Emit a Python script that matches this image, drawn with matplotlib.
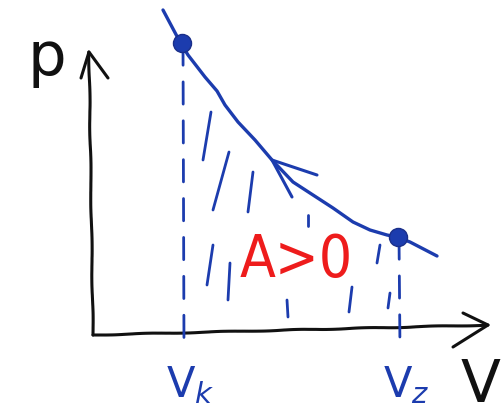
import matplotlib
matplotlib.use('Agg')
import matplotlib.pyplot as plt

# p-V diagram units: 1 unit = 10 px, origin at the axes corner
BLUE = '#1c3cae'
RED = '#ee1c1c'
INK = '#111111'

# isotherm traced by the process (V, p)
curve_V = [7.0, 8.7, 9.5, 11.2, 12.4, 13.2, 14.5, 16.2, 17.9, 20.0, 22.0,
           24.0, 26.0, 27.7, 29.4, 30.4, 31.7, 34.4]
curve_p = [32.5, 29.3, 28.0, 25.8, 24.4, 23.0, 21.3, 19.5, 17.5, 15.3, 14.0,
           12.7, 11.3, 10.5, 10.0, 9.8, 9.3, 7.9]

# end states
V_k, p_k = 8.9, 29.2
V_z, p_z = 30.5, 9.8
state_labels = ['V$_k$', 'V$_z$']

# shading strokes under the curve: (V0, p0, V1, p1)
strokes = [
    (11.8, 22.3, 11.0, 17.5),
    (13.6, 18.3, 12.0, 12.5),
    (16.0, 16.3, 15.5, 12.3),
    (21.5, 12.0, 21.5, 10.9),
    (12.0, 9.0, 11.4, 5.0),
    (13.7, 7.2, 13.5, 3.5),
    (19.4, 3.5, 19.5, 1.8),
    (25.9, 4.8, 25.6, 2.3),
    (28.7, 9.0, 28.4, 7.2),
    (29.7, 4.2, 29.5, 2.7),
]

fig = plt.figure(figsize=(5.01, 4.13), dpi=100)
ax = fig.add_axes([0, 0, 1, 1])
ax.set_xlim(-9.3, 40.8)
ax.set_ylim(-7.8, 33.5)
ax.axis('off')


def wobbly(xs, ys, **kw):
    # slightly shaky pen line
    line, = ax.plot(xs, ys, solid_capstyle='round', solid_joinstyle='round', **kw)
    line.set_sketch_params(0.4, 80, 2)
    return line


# hand drawn axes with open arrow heads
wobbly([0, -0.4], [0, 28.3], color=INK, lw=2.2)
ax.plot([-1.2, -0.4, 1.5], [25.7, 28.3, 25.7], color=INK, lw=2.2, solid_capstyle='round', solid_joinstyle='round')
wobbly([0, 39.5], [0, 1.0], color=INK, lw=2.2)
ax.plot([37.0, 39.5, 36.0], [2.2, 1.0, -1.2], color=INK, lw=2.2, solid_capstyle='round', solid_joinstyle='round')

# process curve with direction arrow
ax.plot(curve_V, curve_p, color=BLUE, lw=2.4, solid_capstyle='round', solid_joinstyle='round')
ax.plot([22.4, 17.9, 19.9], [16.0, 17.5, 13.8], color=BLUE, lw=2.2, solid_capstyle='round', solid_joinstyle='round')

# dashed drop lines to the volume axis
for V, p in [(V_k, p_k), (V_z, p_z)]:
    ax.plot([V + 0.1, V + 0.2], [p, -1.5], color=BLUE, lw=2.0, dashes=(8, 6), dash_capstyle='round')
ax.plot([V_k, V_z], [p_k, p_z], 'o', color=BLUE, ms=13, mec='#1a2f8a', mew=1)

for V0, p0, V1, p1 in strokes:
    ax.plot([V0, V1], [p0, p1], color=BLUE, lw=2.0, solid_capstyle='round')

# labels
for V, lab in zip([V_k, V_z], state_labels):
    ax.text(V + 0.8, -5.0, lab, color=BLUE, fontsize=30, ha='center', va='center')
ax.text(40.7, -5.0, 'V', color=INK, fontsize=42, ha='right', va='center', family='DejaVu Sans')
ax.text(-4.6, 27.6, 'p', color=INK, fontsize=44, ha='center', va='center')
ax.text(20.3, 7.4, 'A>0', color=RED, fontsize=42, ha='center', va='center',
        family='DejaVu Sans', stretch='condensed')

fig.savefig('out.png', dpi=100)
